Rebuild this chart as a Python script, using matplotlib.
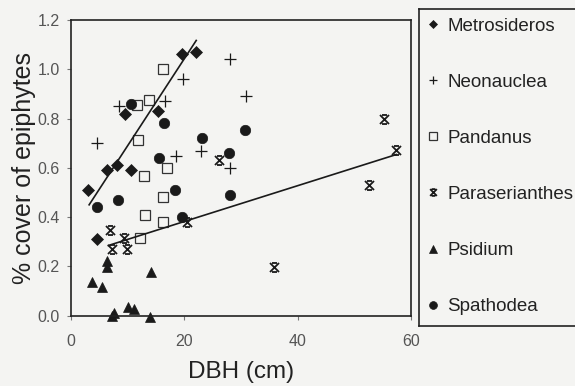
import matplotlib
matplotlib.use("Agg")
import matplotlib.pyplot as plt
from matplotlib.path import Path
from matplotlib.lines import Line2D
import numpy as np

plt.rcParams['font.family'] = ['Liberation Sans', 'DejaVu Sans']

# ---- data ----
metro_x = [3.0, 4.6, 6.4, 8.2, 9.5, 10.6, 15.4, 19.6, 22.1]
metro_y = [0.51, 0.31, 0.59, 0.61, 0.82, 0.59, 0.83, 1.06, 1.07]

neo_x = [4.5, 8.5, 16.6, 19.7, 18.5, 23.0, 28.0, 28.1, 30.8]
neo_y = [0.70, 0.85, 0.87, 0.96, 0.65, 0.67, 1.04, 0.60, 0.89]

pand_x = [16.3, 11.6, 13.8, 11.8, 12.9, 16.9, 16.3, 13.0, 16.2, 12.1]
pand_y = [1.00, 0.855, 0.875, 0.715, 0.567, 0.60, 0.48, 0.407, 0.38, 0.316]

para_x = [6.9, 7.2, 9.3, 9.8, 20.5, 26.2, 35.8, 52.5, 55.3, 57.4]
para_y = [0.346, 0.27, 0.316, 0.27, 0.38, 0.63, 0.197, 0.53, 0.80, 0.674]

psid_x = [3.7, 5.5, 6.3, 6.3, 7.3, 7.5, 10.0, 11.1, 14.1, 14.0]
psid_y = [0.135, 0.115, 0.224, 0.197, 0.0, 0.01, 0.034, 0.027, 0.176, -0.005]

spat_x = [4.5, 8.3, 10.5, 15.6, 16.4, 18.3, 19.6, 23.1, 27.8, 28.0, 30.7]
spat_y = [0.44, 0.47, 0.86, 0.64, 0.78, 0.51, 0.40, 0.72, 0.66, 0.49, 0.755]

# fitted trend lines (end points)
metro_fit_x = [3.2, 22.1]
metro_fit_y = [0.45, 1.117]
para_fit_x = [6.6, 57.4]
para_fit_y = [0.285, 0.654]

labels = ['Metrosideros', 'Neonauclea', 'Pandanus', 'Paraserianthes', 'Psidium', 'Spathodea']
x_ticks = [0, 20, 40, 60]
y_ticks = [0.0, 0.2, 0.4, 0.6, 0.8, 1.0, 1.2]

# ---- custom marker: X with caps ----
verts = [(-1, -1), (1, 1), (-1, 1), (1, -1), (-0.55, 1), (0.55, 1), (-0.55, -1), (0.55, -1)]
codes = [Path.MOVETO, Path.LINETO] * 4
xcap = Path(verts, codes)

bg = '#f4f4f2'
ink = '#1a1a1a'
fig = plt.figure(figsize=(5.75, 3.86), dpi=100, facecolor=bg)
ax = fig.add_axes([71 / 575, 1 - 315.7 / 386, (411 - 71) / 575, (315.7 - 20) / 386])
ax.set_facecolor(bg)

styles = [
    dict(marker='D', ms=6.0, mfc=ink, mec=ink, mew=0.5),
    dict(marker='+', ms=8.5, mfc='none', mec=ink, mew=0.9),
    dict(marker='s', ms=7.0, mfc='none', mec='#333333', mew=0.9),
    dict(marker=xcap, ms=6.5, mfc='none', mec=ink, mew=1.3),
    dict(marker='^', ms=7.5, mfc=ink, mec=ink, mew=0.5),
    dict(marker='o', ms=7.5, mfc=ink, mec=ink, mew=0.5),
]
series = [(metro_x, metro_y), (neo_x, neo_y), (pand_x, pand_y),
          (para_x, para_y), (psid_x, psid_y), (spat_x, spat_y)]

for (xs, ys), st in zip(series, styles):
    ax.plot(xs, ys, linestyle='none', clip_on=False, **st)

ax.plot(metro_fit_x, metro_fit_y, color=ink, lw=1.2)
ax.plot(para_fit_x, para_fit_y, color=ink, lw=1.2)

ax.set_xlim(0, 60)
ax.set_ylim(0, 1.2)
ax.set_xticks(x_ticks)
ax.set_yticks(y_ticks)
ax.set_xticklabels([str(t) for t in x_ticks])
ax.set_yticklabels([f'{t:.1f}' for t in y_ticks])
ax.tick_params(axis='both', direction='out', length=3, width=0.8, color='#777777',
               labelsize=11.5, labelcolor='#555555')
ax.tick_params(axis='x', pad=10)
ax.tick_params(axis='y', pad=5)
for s in ax.spines.values():
    s.set_color('#222222')
    s.set_linewidth(1.2)

ax.set_xlabel('DBH (cm)', fontsize=17.5, color='#222222', labelpad=9)
ax.set_ylabel('% cover of epiphytes', fontsize=18, color='#222222', labelpad=1)

# ---- legend box ----
lax = fig.add_axes([419 / 575, 1 - 325.7 / 386, 0.30, (325.7 - 9) / 386])
lax.set_facecolor(bg)
lax.set_xticks([])
lax.set_yticks([])
for s in lax.spines.values():
    s.set_color('#222222')
    s.set_linewidth(1.2)

handles = []
for st in styles:
    st2 = dict(st)
    st2['ms'] = st['ms'] * 0.75
    handles.append(Line2D([], [], linestyle='none', **st2))
leg = lax.legend(handles, labels, loc='upper left', bbox_to_anchor=(0.0, 1.0),
                 frameon=False, fontsize=13.5, labelspacing=2.08,
                 handlelength=0.6, handletextpad=0.45, borderaxespad=0.35,
                 borderpad=0.1)
for t in leg.get_texts():
    t.set_color('#222222')

fig.savefig('out.png', dpi=100, facecolor=bg)
